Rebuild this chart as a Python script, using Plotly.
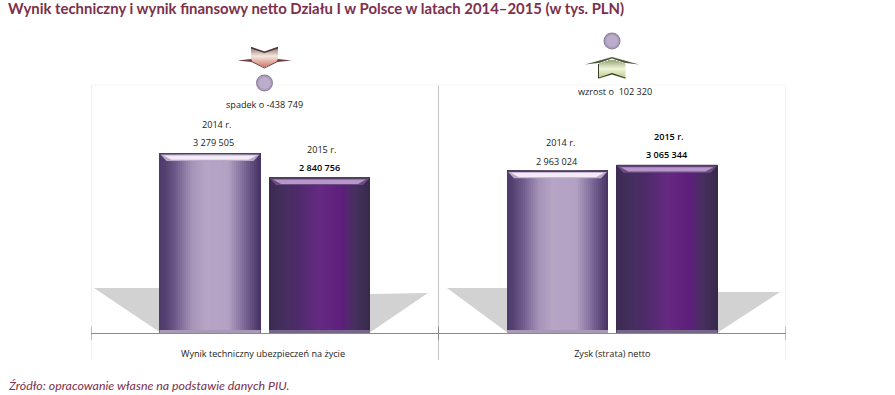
import plotly.graph_objects as go

# ---- data ----
title_text = "Wynik techniczny i wynik finansowy netto Działu I w Polsce w latach 2014–2015 (w tys. PLN)"
source_text = "Źródło: opracowanie własne na podstawie danych PIU."
categories = ["Wynik techniczny ubezpieczeń na życie", "Zysk (strata) netto"]
values_2014 = [3279505, 2963024]
values_2015 = [2840756, 3065344]
year_2014 = "2014 r."
year_2015 = "2015 r."
changes = ["spadek o -438 749", "wzrost o  102 320"]

# ---- canvas geometry ----
W, H = 895, 395
L, R, T, B = 91, 786, 30, 333
GROUP_PX = (R - L) / 2
YMAX = values_2014[0] * (B - T) / 180.0
BAR_PX = 101
GAP_PX = 8.5
label_font = "Open Sans"
label_size = 9.1
plum = "#7b2f4c"
NSTRIP = 50

light_stops = [(0, "#4d3a6c"), (.05, "#54406f"), (.16, "#6f5c8c"), (.32, "#a593b8"), (.45, "#b5a4c4"),
               (.68, "#b3a2c3"), (.8, "#8b78a4"), (.92, "#604c7e"), (1, "#463362")]
dark_stops = [(0, "#3c2b52"), (.15, "#452f5e"), (.3, "#4f2a6c"), (.5, "#652982"), (.72, "#5f1f7c"),
              (.85, "#47305f"), (1, "#382a4c")]


def hex2rgb(c):
    return tuple(int(c[i:i + 2], 16) for i in (1, 3, 5))


def ramp(stops, t):
    for (a, ca), (b, cb) in zip(stops, stops[1:]):
        if t <= b:
            f = (t - a) / (b - a)
            x, y = hex2rgb(ca), hex2rgb(cb)
            return "rgb(%d,%d,%d)" % tuple(round(x[i] + (y[i] - x[i]) * f) for i in range(3))
    return stops[-1][1]


def xd(px):
    return (px - L) / GROUP_PX


def yd(px):
    return (B - px) * YMAX / (B - T)


def pap_x(px):
    return (px - L) / (R - L)


def pap_y(py):
    return (B - py) / (B - T)


def fmt(v):
    return f"{v:,}".replace(",", " ")


fig = go.Figure()
shapes, annotations = [], []
bar_w = BAR_PX / GROUP_PX
gap = GAP_PX / GROUP_PX
strip = bar_w / NSTRIP


def poly(points, fill, layer="above", line=None, width=0):
    path = "M" + " L".join(f"{xd(x):.5f},{yd(y):.1f}" for x, y in points) + " Z"
    shapes.append(dict(type="path", path=path, xref="x", yref="y", fillcolor=fill, layer=layer,
                       line=dict(color=line or fill, width=width)))


def rect(x0, y0, x1, y1, fill, layer="above"):
    shapes.append(dict(type="rect", xref="x", yref="y", x0=xd(x0), x1=xd(x1), y0=yd(y0), y1=yd(y1),
                       fillcolor=fill, layer=layer, line=dict(width=0)))


def draw_bar(center, value, stops, hl_top, hl_mid, cap, name):
    xs = [center - bar_w / 2 + strip * (i + .5) for i in range(NSTRIP)]
    cols = [ramp(stops, (i + .5) / NSTRIP) for i in range(NSTRIP)]
    fig.add_trace(go.Bar(x=xs, y=[value] * NSTRIP, width=[strip * 1.04] * NSTRIP, name=name,
                         marker=dict(color=cols, line=dict(width=0)), showlegend=False))
    left = L + (center - bar_w / 2) * GROUP_PX
    right = left + BAR_PX
    top = B - value * (B - T) / YMAX
    # bevel at the top of the bar
    rect(left, top, right, top + 1.6, "#4c4258")
    poly([(left + 1, top + 1.6), (right - 1, top + 1.6), (right - 7, top + 8), (left + 7, top + 8)], hl_mid)
    poly([(left + 4, top + 2.5), (right - 4, top + 2.5), (right - 12, top + 6.8), (left + 12, top + 6.8)], hl_top)
    # bevel at the bottom
    rect(left, B - 3, right, B + .8, cap)


for g in range(2):
    c0 = g + .5 - gap / 2 - bar_w / 2
    c1 = g + .5 + gap / 2 + bar_w / 2
    draw_bar(c0, values_2014[g], light_stops, "#f3ecf7", "#bba9c9", "#a899b5", "2014")
    draw_bar(c1, values_2015[g], dark_stops, "#b796c9", "#6d4c86", "#75668a", "2015")

# floor shadows behind the bars
for left, right in ((94, 160), (447, 507)):
    poly([(left, 288), (right + 1, 288), (right + 1, 333)], "#d2d2d2", layer="below")
for left, right in ((369, 428), (717, 780)):
    poly([(left, 294 if left < 400 else 292), (right, 293 if left < 400 else 292), (left, 333)], "#d2d2d2", layer="below")

# frame and separators
for i in range(3):
    col = "#c4c4c4" if i == 1 else "#e2e2e2"
    shapes.append(dict(type="line", xref="x", yref="paper", x0=i, x1=i, y0=pap_y(360), y1=pap_y(85),
                       line=dict(color=col, width=1), layer="below"))
    shapes.append(dict(type="line", xref="x", yref="paper", x0=i, x1=i, y0=pap_y(340), y1=pap_y(327),
                       line=dict(color="#8a8a8a", width=1), layer="below"))
shapes.append(dict(type="line", xref="paper", yref="paper", x0=0, x1=1, y0=pap_y(85), y1=pap_y(85),
                   line=dict(color="#f6f6f6", width=1), layer="below"))


# ---- change arrows and dots ----
def blend(a, b, f):
    x, y = hex2rgb(a), hex2rgb(b)
    return "rgb(%d,%d,%d)" % tuple(round(x[i] + (y[i] - x[i]) * f) for i in range(3))


def dot(cx, cy, r=8.5):
    for rr, col in ((r, "#8f8299"), (r - 1, "#aa9bbd"), (r - 2.5, "#bbaecd")):
        shapes.append(dict(type="circle", xref="paper", yref="paper", x0=pap_x(cx - rr), x1=pap_x(cx + rr),
                           y0=pap_y(cy + rr), y1=pap_y(cy - rr), fillcolor=col, line=dict(width=0)))


# down arrow
cx = 264.5
for row in range(47, 67):
    f = (row - 47) / 19
    col = blend("#8e7772", "#f4e8e0", f * 2.2) if f < .45 else blend("#f4e8e0", "#d27d72", (f - .45) / .55)
    half = 13.5 if row < 61 else max(13.5 - (row - 61) * 2.4, 1)
    rect(cx - half, row, cx + half, row + 1, col)
poly([(cx - 15, 46), (cx, 51.5), (cx + 15, 46)], "#ffffff")
poly([(cx - 13.5, 47), (cx, 51.5), (cx + 13.5, 47), (cx + 13.5, 48.5), (cx, 53), (cx - 13.5, 48.5)], "#4a3535")
poly([(cx - 27, 60.5), (cx - 13.5, 59), (cx - 12, 61.5), (cx, 67.5), (cx + 12, 61.5), (cx + 13.5, 59), (cx + 27, 60.5),
      (cx + 13, 62), (cx, 68.5), (cx - 13, 62)], "#6e3f3f")
dot(264.5, 83)

# up arrow
cx = 612
for row in range(60, 79):
    f = (row - 60) / 18
    col = blend("#9aa87c", "#f0f5d8", f * 2.2) if f < .45 else blend("#f0f5d8", "#b6c98c", (f - .45) / .55)
    half = 13.5 if row > 63 else 4 + (row - 60) * 3
    rect(cx - half, row, cx + half, row + 1, col)
poly([(cx - 15, 79.5), (cx, 74.5), (cx + 15, 79.5)], "#ffffff")
poly([(cx - 27, 64.5), (cx, 57), (cx + 27, 64.5), (cx + 12, 62.8), (cx, 58.5), (cx - 12, 62.8)], "#4f5a3c")
poly([(cx - 14, 64), (cx - 13, 64), (cx - 13, 77.5), (cx, 73), (cx + 13.5, 77.5), (cx + 13.5, 78.5), (cx, 74.5), (cx - 14, 78.5)], "#3b3f2e")
dot(612, 41)


# ---- labels ----
def label(text, x, value, shift, col="#222222", weight=400):
    annotations.append(dict(text=text, xref="x", yref="y", x=x, y=value, yshift=shift, showarrow=False,
                            xanchor="center", yanchor="middle",
                            font=dict(family=label_font, size=label_size, color=col, weight=weight)))


label(year_2014, xd(216), values_2014[0], 29)
label(fmt(values_2014[0]), xd(213), values_2014[0], 11)
label(year_2015, xd(321), values_2015[0], 28)
label(fmt(values_2015[0]), xd(319), values_2015[0], 10, col="#000000", weight=600)
label(year_2014, xd(560), values_2014[1], 28)
label(fmt(values_2014[1]), xd(557), values_2014[1], 9)
label(year_2015, xd(669), values_2015[1], 28, col="#000000", weight=600)
label(fmt(values_2015[1]), xd(667), values_2015[1], 10, col="#000000", weight=600)
for text, x, y in ((changes[0], 264, 104.5), (changes[1], 615, 91.5)):
    annotations.append(dict(text=text, xref="paper", yref="paper", x=pap_x(x), y=pap_y(y),
                            showarrow=False, xanchor="center", yanchor="middle",
                            font=dict(family=label_font, size=label_size, color="#222222")))
annotations.append(dict(text=source_text, xref="paper", yref="paper", x=pap_x(6), y=pap_y(385), showarrow=False,
                        xanchor="left", yanchor="middle",
                        font=dict(family="Lato", size=12.4, color=plum, style="italic")))

fig.update_layout(
    width=W, height=H, autosize=False,
    margin=dict(l=L, r=W - R, t=T, b=H - B, pad=0),
    paper_bgcolor="white", plot_bgcolor="white",
    barmode="overlay", bargap=0,
    title=dict(text=title_text, x=8 / W, xanchor="left", y=1 - 9 / H, yanchor="middle", xref="container", yref="container",
               font=dict(family="Lato", size=14.9, color=plum, weight="bold")),
    xaxis=dict(range=[0, 2], tickmode="array", tickvals=[.495, 1.5], ticktext=categories, ticklen=0, ticks="",
               showgrid=False, zeroline=False, showline=True, linecolor="#8a8a8a", linewidth=1,
               tickfont=dict(family=label_font, size=label_size, color="#222222"), ticklabelstandoff=12),
    yaxis=dict(range=[0, YMAX], visible=False, showgrid=False, zeroline=False),
    shapes=shapes, annotations=annotations, showlegend=False,
)
fig.write_html("out.html", config=dict(displayModeBar=False),
               post_script="document.body.style.margin='0';document.documentElement.style.overflow='hidden';")
